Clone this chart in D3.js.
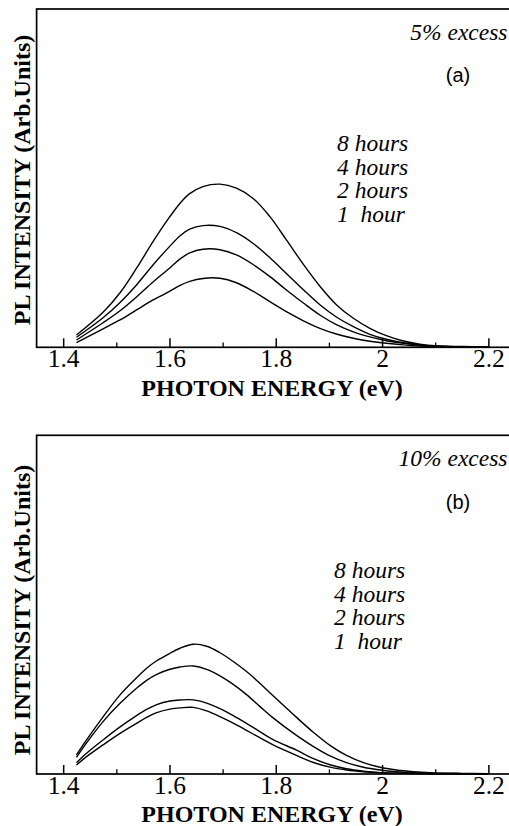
<!DOCTYPE html>
<html><head><meta charset="utf-8">
<script src="https://cdn.jsdelivr.net/npm/d3@7"></script>
<style>body{margin:0;background:#fff}svg{display:block}</style>
</head><body>
<svg id="chart" width="509" height="826"></svg>
<script>
// ---- data (intensity in arbitrary units) ----
const seriesNames = ["8 hours", "4 hours", "2 hours", "1  hour"];
const xMajorTicks = [1.4, 1.6, 1.8, 2, 2.2];
const xMinorTicks = [1.5, 1.7, 1.9, 2.1];
const xTitle = "PHOTON ENERGY (eV)";
const yTitle = "PL INTENSITY (Arb.Units)";

const energyA = [1.425, 1.475, 1.507, 1.538, 1.569, 1.600, 1.620, 1.638, 1.663, 1.695, 1.726, 1.758, 1.789,
  1.820, 1.852, 1.883, 1.914, 1.946, 1.977, 2.008, 2.040, 2.071, 2.100, 2.150, 2.200];
const a8h = [12.3, 35, 54.5, 79, 105.6, 130, 144, 153.5, 160.6, 163, 159, 148.5, 130.5, 107.3, 82.8, 61, 42.6, 29, 19, 11.6, 6.3, 3.2, 1.6, 0.8, 0.3];
const a4h = [10, 29.5, 44.8, 62.3, 82.3, 100.6, 111.5, 118, 121.6, 120.8, 114.5, 103.5, 89.5, 73.8, 57.5, 42.5, 30.3, 20.6, 13, 8, 4.6, 2.4, 1.2, 0.6, 0.3];
const a2h = [7.3, 24.5, 36.5, 50.3, 65.3, 79, 88.3, 94.3, 98, 97.5, 92.3, 82.5, 70.6, 57.3, 44.2, 32.3, 22.6, 15.4, 10.4, 6.6, 4, 2.3, 1.2, 0.6, 0.3];
const a1h = [4.6, 18.5, 27.3, 37.3, 47.3, 55.8, 61.8, 65.8, 68.8, 69, 64.5, 55.8, 45.6, 35.6, 26.5, 19, 13.3, 9, 6.1, 4, 2.4, 1.3, 0.8, 0.4, 0.2];

const energyB = [1.425, 1.444, 1.475, 1.507, 1.538, 1.557, 1.576, 1.601, 1.620, 1.645, 1.670, 1.695, 1.720, 1.745,
  1.770, 1.795, 1.839, 1.871, 1.902, 1.933, 1.965, 1.996, 2.027, 2.059, 2.090, 2.150, 2.200];
const b8h = [19, 34, 57, 79, 96, 105.5, 113, 120.5, 125.5, 129.5, 127.5, 121, 112.3, 102.3, 90.5, 78, 56.5, 41.5, 28.5, 18.5, 11.3, 6.7, 4, 2.3, 1.3, 0.6, 0.3];
const b4h = [16.5, 31, 52.3, 70.5, 85.5, 93.5, 99.5, 104.5, 106.8, 107.8, 104.5, 98, 89.5, 79.2, 67.5, 56, 38.5, 27.3, 18, 11.3, 6.7, 4, 2.3, 1.3, 0.7, 0.4, 0.2];
const b2h = [11.3, 20.7, 34, 47, 58.3, 64.5, 69.3, 72.8, 73.8, 74, 70.8, 65.3, 58.3, 50.5, 42.3, 34.3, 23.8, 15.3, 9.2, 5.2, 2.8, 1.4, 0.8, 0.5, 0.3, 0.2, 0.1];
const b1h = [9, 17.3, 29, 40.5, 50.5, 56.5, 61.3, 64.8, 66, 66.5, 63, 57.3, 50.7, 43.5, 36.2, 29, 18.5, 11.5, 6.8, 4, 2.3, 1.3, 0.8, 0.5, 0.3, 0.2, 0.1];

const panelA = { label: "(a)", note: "5% excess", energy: energyA, series: [a8h, a4h, a2h, a1h] };
const panelB = { label: "(b)", note: "10% excess", energy: energyB, series: [b8h, b4h, b2h, b1h] };

// ---- layout ----
const layouts = [
  { top: 9, bottom: 347.3, noteY: 39.5, labelY: 82, legendX: 337, legendY: 151, tickLabelY: 367, titleY: 396, yTitleY: 180 },
  { top: 435.3, bottom: 774, noteY: 465.5, labelY: 508.5, legendX: 334, legendY: 578, tickLabelY: 793.5, titleY: 822, yTitleY: 610 }
];
const serif = "'Liberation Serif', 'Times New Roman', serif";
const sans = "'Liberation Sans', Arial, sans-serif";

const svg = d3.select("#chart");
const x = d3.scaleLinear().domain([1.35, 2.25]).range([36.6, 36.6 + 0.9 * 531.5]);

[panelA, panelB].forEach((p, i) => {
  const L = layouts[i];
  const y = d3.scaleLinear().domain([0, 338]).range([L.bottom, L.top]);
  const g = svg.append("g");

  // frame
  g.append("rect")
    .attr("x", x(1.35)).attr("y", L.top)
    .attr("width", x(2.25) - x(1.35)).attr("height", L.bottom - L.top)
    .attr("fill", "none").attr("stroke", "#000").attr("stroke-width", 1.7);

  // major ticks + labels
  const axMaj = g.append("g").attr("transform", `translate(0,${L.bottom})`)
    .call(d3.axisBottom(x).tickValues(xMajorTicks).tickSize(-9).tickSizeOuter(0).tickFormat(d3.format("")));
  axMaj.select(".domain").remove();
  axMaj.selectAll(".tick line").attr("stroke", "#000").attr("stroke-width", 1.5);
  axMaj.selectAll(".tick text")
    .attr("y", L.tickLabelY - L.bottom).attr("dy", 0)
    .attr("fill", "#000").style("font-family", serif).style("font-size", "25.5px");

  // minor ticks
  const axMin = g.append("g").attr("transform", `translate(0,${L.bottom})`)
    .call(d3.axisBottom(x).tickValues(xMinorTicks).tickSize(-4.7).tickSizeOuter(0).tickFormat(""));
  axMin.select(".domain").remove();
  axMin.selectAll(".tick line").attr("stroke", "#000").attr("stroke-width", 1.3);

  // curves
  const line = d3.line()
    .x((d, k) => x(p.energy[k]))
    .y(d => y(d))
    .curve(d3.curveCatmullRom.alpha(0.5));
  g.selectAll("path.curve").data(p.series).enter().append("path")
    .attr("class", "curve")
    .attr("d", line)
    .attr("fill", "none").attr("stroke", "#000").attr("stroke-width", 1.4);

  // note
  g.append("text").attr("x", 507.5).attr("y", L.noteY).attr("text-anchor", "end")
    .style("font-family", serif).style("font-style", "italic").style("font-size", "23.5px")
    .text(p.note);
  // panel label
  g.append("text").attr("x", 458).attr("y", L.labelY).attr("text-anchor", "middle")
    .style("font-family", sans).style("font-size", "20px").text(p.label);

  // legend text
  g.selectAll("text.leg").data(seriesNames).enter().append("text")
    .attr("class", "leg")
    .attr("x", L.legendX).attr("y", (d, k) => L.legendY + k * 23.7)
    .style("font-family", serif).style("font-style", "italic").style("font-size", "23.5px")
    .style("white-space", "pre").attr("xml:space", "preserve")
    .text(d => d);

  // axis titles
  g.append("text").attr("x", 272).attr("y", L.titleY).attr("text-anchor", "middle")
    .style("font-family", serif).style("font-weight", "bold").style("font-size", "24px")
    .text(xTitle);
  g.append("text").attr("transform", `translate(29.5,${L.yTitleY}) rotate(-90)`).attr("text-anchor", "middle")
    .style("font-family", serif).style("font-weight", "bold").style("font-size", "24px")
    .text(yTitle);
});
</script>
</body></html>
